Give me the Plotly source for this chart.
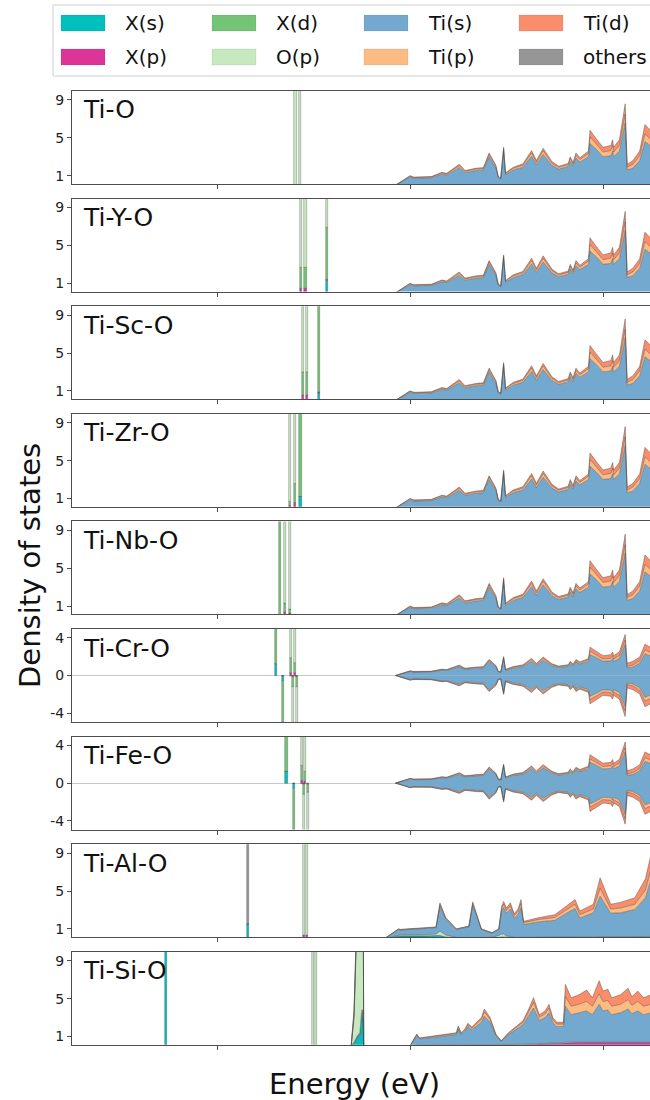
import plotly.graph_objects as go

# ---------------- orbital definitions ----------------
ORB = ["Xs", "Xp", "Xd", "Op", "Tis", "Tip", "Tid", "oth"]
LABELS = ["X(s)", "X(p)", "X(d)", "O(p)", "Ti(s)", "Ti(p)", "Ti(d)", "others"]
COLORS = ["#00bfbf", "#dd3497", "#74c476", "#c7e9c0", "#74a9cf", "#fdbb84", "#fc8d6b", "#969696"]

PANELS = ["Ti-O", "Ti-Y-O", "Ti-Sc-O", "Ti-Zr-O", "Ti-Nb-O", "Ti-Cr-O", "Ti-Fe-O", "Ti-Al-O", "Ti-Si-O"]
SPIN = [False, False, False, False, False, True, True, False, False]

X_TICKS = [-8, -6, -4]
X_TICKTEXT = ["-8", "-6", "-4"]
Y_TICKS_NS = [1, 5, 9]
Y_TICKS_SP = [-4, 0, 4]

# ---------------- valence band, non spin-polarised (Ti-O like) ----------------
E_val = [-6.15, -6.0, -5.96, -5.78, -5.67, -5.62, -5.49, -5.43, -5.31, -5.24, -5.18, -5.11, -5.085, -5.06,
         -5.03, -5.01, -4.93, -4.83, -4.74, -4.69, -4.62, -4.53, -4.46, -4.36, -4.34, -4.31, -4.28, -4.24,
         -4.15, -4.135, -4.07, -4.0, -3.92, -3.90, -3.89, -3.83, -3.77, -3.75, -3.69, -3.62, -3.565, -3.50]
val_Tis = [0, 0.85, 0.72, 0.78, 1.15, 1.08, 1.85, 1.33, 1.55, 1.6, 3.0, 1.8, 0.8, 0.65, 3.6, 1.1, 1.6, 1.9,
           3.05, 2.15, 3.25, 2.1, 1.7, 1.95, 2.5, 2.0, 2.85, 2.45, 3.0, 4.4, 3.8, 3.0, 3.1, 3.6, 3.0, 3.6,
           6.6, 1.6, 1.8, 2.6, 4.6, 4.1]
val_Tip = [0, 0.1, 0.08, 0.08, 0.12, 0.1, 0.2, 0.14, 0.15, 0.15, 0.25, 0.18, 0.06, 0.06, 0.25, 0.12, 0.18,
           0.2, 0.35, 0.25, 0.38, 0.22, 0.18, 0.2, 0.3, 0.22, 0.3, 0.25, 0.35, 0.7, 0.55, 0.5, 0.55, 0.6,
           0.5, 0.6, 0.9, 0.3, 0.4, 0.5, 0.8, 0.7]
val_Tid = [0, 0.05, 0.05, 0.04, 0.08, 0.07, 0.15, 0.08, 0.1, 0.1, 0.15, 0.12, 0.04, 0.04, 0.15, 0.08, 0.12,
           0.15, 0.25, 0.2, 0.27, 0.18, 0.12, 0.15, 0.2, 0.18, 0.25, 0.2, 0.25, 0.7, 0.55, 0.5, 0.55, 0.6,
           0.5, 0.6, 1.1, 0.3, 0.4, 0.5, 1.0, 0.9]

# ---------------- valence band, spin-polarised (Ti-Cr-O, Ti-Fe-O), per spin channel ----------------
spin_Tis = [0, 0.42, 0.36, 0.39, 0.57, 0.54, 0.92, 0.66, 0.77, 0.8, 1.5, 0.9, 0.4, 0.32, 1.8, 0.55, 0.8, 0.95,
            1.52, 1.07, 1.62, 1.05, 0.85, 0.97, 1.25, 1.0, 1.42, 1.22, 1.5, 2.2, 1.9, 1.5, 1.55, 1.8, 1.5, 1.8,
            3.3, 0.8, 0.9, 1.3, 2.3, 2.05]
spin_Tip = [0, 0.05, 0.04, 0.04, 0.06, 0.05, 0.1, 0.07, 0.08, 0.08, 0.12, 0.09, 0.03, 0.03, 0.12, 0.06, 0.09,
            0.1, 0.17, 0.12, 0.19, 0.11, 0.09, 0.1, 0.15, 0.11, 0.15, 0.12, 0.17, 0.35, 0.27, 0.25, 0.27, 0.3,
            0.25, 0.3, 0.45, 0.15, 0.2, 0.25, 0.4, 0.35]
spin_Tid = [0, 0.03, 0.03, 0.02, 0.04, 0.04, 0.08, 0.04, 0.05, 0.05, 0.08, 0.06, 0.02, 0.02, 0.08, 0.04, 0.06,
            0.08, 0.12, 0.1, 0.14, 0.09, 0.06, 0.08, 0.1, 0.09, 0.12, 0.1, 0.12, 0.45, 0.4, 0.35, 0.38, 0.4,
            0.35, 0.4, 0.6, 0.35, 0.4, 0.4, 0.6, 0.55]

# ---------------- valence band, Ti-Al-O ----------------
E_al = [-6.26, -6.12, -6.10, -5.90, -5.73, -5.69, -5.63, -5.52, -5.39, -5.35, -5.30, -5.26, -5.15, -5.08,
        -5.05, -5.03, -5.00, -4.96, -4.92, -4.88, -4.85, -4.83, -4.82, -4.66, -4.50, -4.38, -4.29, -4.24,
        -4.10, -4.03, -3.92, -3.82, -3.67, -3.56, -3.50]
al_Xs = [0, 0.25, 0.25, 0.25, 0.25, 0.30, 0.15, 0.05, 0.05, 0.05, 0.05, 0.05, 0.05, 0.10, 0.15, 0.15, 0.10,
         0.10, 0.05, 0.05, 0.05, 0.05, 0.05, 0.05, 0.05, 0.05, 0.05, 0.05, 0.05, 0.05, 0.05, 0.05, 0.05, 0.05, 0.05]
al_Xp = [0, 0, 0, 0, 0, 0, 0, 0, 0, 0, 0, 0, 0, 0, 0, 0, 0, 0, 0, 0, 0, 0, 0, 0, 0.03, 0.05, 0.05, 0.05,
         0.06, 0.08, 0.06, 0.06, 0.08, 0.1, 0.1]
al_Op = [0, 0.10, 0.10, 0.10, 0.20, 0.45, 0.20, 0.05, 0.05, 0.10, 0.05, 0.05, 0.05, 0.20, 0.30, 0.30, 0.15,
         0.10, 0.05, 0.05, 0.05, 0.05, 0.05, 0.05, 0.05, 0.05, 0.05, 0.05, 0.05, 0.05, 0.05, 0.05, 0.05, 0.05, 0.05]
al_Tis = [0, 0.57, 0.52, 0.62, 0.67, 2.65, 1.67, 0.82, 1.12, 3.35, 1.92, 0.82, 0.45, 0.62, 2.5, 2.8, 2.4,
          2.9, 2.05, 2.45, 3.15, 1.55, 1.35, 1.65, 1.77, 2.5, 3.0, 2.0, 2.54, 4.27, 2.49, 2.54, 2.87, 4.1, 6.1]
al_Tip = [0, 0.05, 0.05, 0.05, 0.05, 0.20, 0.10, 0.05, 0.05, 0.20, 0.10, 0.05, 0.03, 0.05, 0.25, 0.35, 0.30,
          0.35, 0.25, 0.30, 0.45, 0.20, 0.20, 0.25, 0.30, 0.35, 0.45, 0.35, 0.40, 0.85, 0.45, 0.50, 0.55, 0.80, 1.10]
al_Tid = [0, 0.03, 0.03, 0.03, 0.03, 0.15, 0.08, 0.03, 0.03, 0.15, 0.08, 0.03, 0.02, 0.03, 0.20, 0.30, 0.25,
          0.30, 0.20, 0.25, 0.40, 0.15, 0.15, 0.20, 0.30, 0.40, 0.50, 0.40, 0.50, 1.10, 0.50, 0.60, 0.70, 1.20, 1.60]

# ---------------- valence band, Ti-Si-O ----------------
E_si = [-6.61, -6.58, -6.55, -6.52, -6.50, -6.49, -6.48,
        -6.00, -5.93, -5.90, -5.52, -5.50, -5.47, -5.43, -5.40, -5.36, -5.26, -5.23, -5.17, -5.11, -5.055,
        -4.98, -4.83, -4.77, -4.72, -4.66, -4.60, -4.56, -4.52, -4.48, -4.41, -4.39, -4.33, -4.25, -4.17,
        -4.11, -4.04, -4.00, -3.95, -3.91, -3.82, -3.74, -3.70, -3.64, -3.58, -3.50]
si_Xs = [0, 0.3, 0.8, 1.2, 3.5, 3.5, 0,
         0, 0.05, 0.05, 0.05, 0.05, 0.05, 0.05, 0.05, 0.05, 0.05, 0.05, 0.05, 0.05, 0.03,
         0.05, 0.05, 0.05, 0.05, 0.05, 0.05, 0.05, 0.05, 0.05, 0.05, 0.05, 0.05, 0.05, 0.05,
         0.05, 0.05, 0.05, 0.05, 0.05, 0.05, 0.05, 0.05, 0.05, 0.05, 0.05]
si_Xp = [0, 0.1, 0.2, 0.2, 0.3, 0.3, 0,
         0, 0.05, 0.05, 0.05, 0.05, 0.05, 0.05, 0.05, 0.05, 0.05, 0.05, 0.05, 0.05, 0.03,
         0.05, 0.08, 0.1, 0.12, 0.12, 0.15, 0.18, 0.2, 0.25, 0.25, 0.3, 0.3, 0.3, 0.3,
         0.3, 0.35, 0.3, 0.3, 0.3, 0.3, 0.35, 0.3, 0.3, 0.3, 0.3]
si_Op = [0, 2.5, 12, 30, 30, 30, 0,
         0, 0.05, 0.05, 0.05, 0.05, 0.05, 0.05, 0.05, 0.05, 0.05, 0.05, 0.05, 0.05, 0.03,
         0.05, 0.05, 0.05, 0.05, 0.05, 0.05, 0.05, 0.05, 0.05, 0.05, 0.05, 0.05, 0.05, 0.05,
         0.05, 0.05, 0.05, 0.05, 0.05, 0.05, 0.05, 0.05, 0.05, 0.05, 0.05]
si_Tis = [0, 0.4, 0.8, 0.8, 0.8, 0.8, 0,
          0, 0.95, 0.59, 1.05, 1.63, 1.05, 1.4, 1.9, 1.56, 2.35, 3.0, 2.35, 0.93, 0.38,
          1.05, 2.05, 3.0, 3.78, 2.48, 2.75, 3.22, 2.15, 1.7, 1.7, 3.8, 2.9, 3.1, 3.3,
          2.9, 3.95, 3.3, 3.4, 2.9, 3.1, 3.45, 3.0, 3.3, 2.9, 3.1]
si_Tip = [0, 0.3, 0.5, 0.5, 0.5, 0.5, 0,
          0, 0.1, 0.07, 0.12, 0.2, 0.12, 0.15, 0.2, 0.17, 0.3, 0.45, 0.3, 0.1, 0.05,
          0.12, 0.25, 0.4, 0.6, 0.35, 0.4, 0.5, 0.3, 0.25, 0.25, 1.0, 0.9, 0.9, 1.0,
          0.9, 1.1, 1.0, 1.0, 0.9, 0.9, 1.0, 0.9, 1.0, 0.9, 0.9]
si_Tid = [0, 0.2, 0.3, 0.3, 0.3, 0.3, 0,
          0, 0.05, 0.04, 0.08, 0.12, 0.08, 0.1, 0.15, 0.12, 0.2, 0.3, 0.2, 0.07, 0.03,
          0.08, 0.17, 0.3, 0.5, 0.25, 0.3, 0.4, 0.25, 0.2, 0.2, 1.3, 0.9, 1.0, 1.2,
          0.9, 1.4, 1.1, 1.2, 0.9, 1.0, 1.2, 0.9, 1.1, 0.9, 1.0]

# ---------------- sharp (localised) states: energies and heights ----------------
spk_TiO_E = [-7.187, -7.139]
spk_TiO_Op = [30, 30]

spk_TiY_E = [-7.133, -7.083, -6.86]
spk_TiY_Xs = [0, 0, 1.3]
spk_TiY_Xp = [0.4, 0.4, 0.1]
spk_TiY_Xd = [2.3, 2.3, 5.5]
spk_TiY_Op = [30, 30, 30]

spk_TiSc_E = [-7.11, -7.065, -6.945]
spk_TiSc_Xs = [0, 0, 0.8]
spk_TiSc_Xp = [0.5, 0.5, 0.1]
spk_TiSc_Xd = [2.5, 2.5, 30]
spk_TiSc_Op = [30, 30, 0]

spk_TiZr_E = [-7.24, -7.19, -7.135]
spk_TiZr_Xs = [0, 0, 1.2]
spk_TiZr_Xp = [0.2, 0.5, 0]
spk_TiZr_Xd = [0.5, 2.0, 30]
spk_TiZr_Op = [30, 30, 0]

spk_TiNb_E = [-7.345, -7.295, -7.245]
spk_TiNb_Xp = [0, 0.3, 0.2]
spk_TiNb_Xd = [30, 1.0, 0.5]
spk_TiNb_Op = [0, 30, 30]

spk_TiCr_up_E = [-7.39, -7.23, -7.195]
spk_TiCr_up_Xs = [1.2, 0, 0]
spk_TiCr_up_Xp = [0, 0.3, 0.3]
spk_TiCr_up_Xd = [30, 1.5, 1.0]
spk_TiCr_up_Op = [0, 30, 30]
spk_TiCr_dn_E = [-7.32, -7.215, -7.175]
spk_TiCr_dn_Xs = [0.6, 0, 0]
spk_TiCr_dn_Xp = [0, 0.2, 0.2]
spk_TiCr_dn_Xd = [30, 1.0, 1.0]
spk_TiCr_dn_Op = [0, 30, 30]

spk_TiFe_up_E = [-7.28, -7.12, -7.085]
spk_TiFe_up_Xs = [1.2, 0, 0]
spk_TiFe_up_Xp = [0, 0.3, 0.2]
spk_TiFe_up_Xd = [30, 1.5, 1.0]
spk_TiFe_up_Op = [0, 30, 30]
spk_TiFe_dn_E = [-7.20, -7.095, -7.055]
spk_TiFe_dn_Xs = [0.6, 0, 0]
spk_TiFe_dn_Xp = [0, 0.2, 0.2]
spk_TiFe_dn_Xd = [30, 1.0, 0.8]
spk_TiFe_dn_Op = [0, 30, 30]

spk_TiAl_E = [-7.68, -7.10, -7.07]
spk_TiAl_Xs = [1.5, 0, 0]
spk_TiAl_Xp = [0, 0.3, 0.3]
spk_TiAl_Op = [0, 30, 30]
spk_TiAl_oth = [30, 0, 0]

spk_TiSi_E = [-8.53, -7.005, -6.975]
spk_TiSi_Xs = [30, 0, 0]
spk_TiSi_Op = [0, 30, 30]

VAL_NS = {"Tis": val_Tis, "Tip": val_Tip, "Tid": val_Tid}
VAL_SP = {"Tis": spin_Tis, "Tip": spin_Tip, "Tid": spin_Tid}

panel_data = [
    dict(val=(E_val, VAL_NS), up=(spk_TiO_E, {"Op": spk_TiO_Op})),
    dict(val=(E_val, VAL_NS), up=(spk_TiY_E, {"Xs": spk_TiY_Xs, "Xp": spk_TiY_Xp, "Xd": spk_TiY_Xd, "Op": spk_TiY_Op})),
    dict(val=(E_val, VAL_NS), up=(spk_TiSc_E, {"Xs": spk_TiSc_Xs, "Xp": spk_TiSc_Xp, "Xd": spk_TiSc_Xd, "Op": spk_TiSc_Op})),
    dict(val=(E_val, VAL_NS), up=(spk_TiZr_E, {"Xs": spk_TiZr_Xs, "Xp": spk_TiZr_Xp, "Xd": spk_TiZr_Xd, "Op": spk_TiZr_Op})),
    dict(val=(E_val, VAL_NS), up=(spk_TiNb_E, {"Xp": spk_TiNb_Xp, "Xd": spk_TiNb_Xd, "Op": spk_TiNb_Op})),
    dict(val=(E_val, VAL_SP),
         up=(spk_TiCr_up_E, {"Xs": spk_TiCr_up_Xs, "Xp": spk_TiCr_up_Xp, "Xd": spk_TiCr_up_Xd, "Op": spk_TiCr_up_Op}),
         dn=(spk_TiCr_dn_E, {"Xs": spk_TiCr_dn_Xs, "Xp": spk_TiCr_dn_Xp, "Xd": spk_TiCr_dn_Xd, "Op": spk_TiCr_dn_Op})),
    dict(val=(E_val, VAL_SP),
         up=(spk_TiFe_up_E, {"Xs": spk_TiFe_up_Xs, "Xp": spk_TiFe_up_Xp, "Xd": spk_TiFe_up_Xd, "Op": spk_TiFe_up_Op}),
         dn=(spk_TiFe_dn_E, {"Xs": spk_TiFe_dn_Xs, "Xp": spk_TiFe_dn_Xp, "Xd": spk_TiFe_dn_Xd, "Op": spk_TiFe_dn_Op})),
    dict(val=(E_al, {"Xs": al_Xs, "Xp": al_Xp, "Op": al_Op, "Tis": al_Tis, "Tip": al_Tip, "Tid": al_Tid}),
         up=(spk_TiAl_E, {"Xs": spk_TiAl_Xs, "Xp": spk_TiAl_Xp, "Op": spk_TiAl_Op, "oth": spk_TiAl_oth})),
    dict(val=(E_si, {"Xs": si_Xs, "Xp": si_Xp, "Op": si_Op, "Tis": si_Tis, "Tip": si_Tip, "Tid": si_Tid}),
         up=(spk_TiSi_E, {"Xs": spk_TiSi_Xs, "Op": spk_TiSi_Op})),
]

# ---------------- layout constants (pixels) ----------------
W, H = 650, 1100
PLOT_X0 = 72
PANEL_TOP0, PANEL_STEP, PANEL_H = 91, 107.6, 93
X_RANGE = [-9.503, -3.513]
Y_RANGE_NS = [0.12, 9.95]
Y_RANGE_SP = [-4.92, 4.92]
EDGE = "rgba(70,70,70,0.55)"
FRAME = "#4d4d4d"
FONT = "DejaVu Sans"
SPIKE_W = 0.022
CLEAR = "rgba(0,0,0,0)"
XLABEL_GAP_PX = 14  # distance from bottom frame to centre of energy tick labels

COL = dict(zip(ORB, COLORS))

fig = go.Figure()
layout_axes = {}
annotations = []

for i, name in enumerate(PANELS):
    sfx = "" if i == 0 else str(i + 1)
    xa, ya = "x" + sfx, "y" + sfx
    pdata = panel_data[i]
    spin = SPIN[i]
    yr = Y_RANGE_SP if spin else Y_RANGE_NS

    # valence band (stacked areas)
    E, comp = pdata["val"]
    channels = [(1, "u")] + ([(-1, "d")] if spin else [])
    for sign, tag in channels:
        for orb in ORB:
            if orb in comp:
                fig.add_trace(go.Scatter(
                    x=E, y=[sign * v for v in comp[orb]], xaxis=xa, yaxis=ya,
                    stackgroup=f"{tag}{i}", mode="lines",
                    line=dict(width=0.8, color=EDGE), fillcolor=COL[orb],
                    showlegend=False, hoverinfo="skip"))

    # localised states (stacked narrow bars)
    for key, sign in (("up", 1), ("dn", -1)):
        if key not in pdata:
            continue
        E, comp = pdata[key]
        for orb in ORB:
            if orb in comp:
                fig.add_trace(go.Bar(
                    x=E, y=[sign * v for v in comp[orb]], xaxis=xa, yaxis=ya,
                    width=SPIKE_W, marker=dict(color=COL[orb], line=dict(width=0.6, color=EDGE)),
                    showlegend=False, hoverinfo="skip"))

    top = PANEL_TOP0 + i * PANEL_STEP
    bot = top + PANEL_H
    last = (i == len(PANELS) - 1)

    # energy tick labels under the bottom panel, drawn on its x scale
    if last:
        y_per_px = (yr[1] - yr[0]) / PANEL_H
        y_lab = yr[0] - XLABEL_GAP_PX * y_per_px
        fig.add_trace(go.Scatter(
            x=X_TICKS, y=[y_lab] * len(X_TICKS), text=X_TICKTEXT, mode="text",
            textposition="middle center", cliponaxis=False, xaxis=xa, yaxis=ya,
            textfont=dict(family=FONT, size=14, color="#222"),
            showlegend=False, hoverinfo="skip"))

    layout_axes["xaxis" + sfx] = dict(
        domain=[PLOT_X0 / W, 1.0], anchor=ya, range=X_RANGE, showgrid=False, zeroline=False,
        showline=True, mirror=True, linecolor=FRAME, linewidth=1,
        ticks="outside", ticklen=4, tickwidth=1, tickcolor=FRAME,
        tickmode="array", tickvals=X_TICKS, showticklabels=False)
    layout_axes["yaxis" + sfx] = dict(
        domain=[1 - bot / H, 1 - top / H], anchor=xa,
        range=yr, showgrid=False,
        zeroline=spin, zerolinecolor="#c8c8c8", zerolinewidth=1,
        showline=True, mirror=False, linecolor=FRAME, linewidth=1,
        ticks="outside", ticklen=4, tickwidth=1, tickcolor=FRAME,
        tickmode="array", tickvals=Y_TICKS_SP if spin else Y_TICKS_NS,
        ticktext=[str(t) for t in (Y_TICKS_SP if spin else Y_TICKS_NS)],
        tickfont=dict(family=FONT, size=14, color="#222"))

    annotations.append(dict(
        text=name, xref="paper", yref="paper", x=81 / W, y=1 - (top + 19) / H,
        xanchor="left", yanchor="middle", showarrow=False,
        font=dict(family=FONT, size=25, color="#111")))

# axis titles
annotations.append(dict(text="Energy (eV)", xref="paper", yref="paper", x=354 / W, y=1 - 1084 / H,
                        xanchor="center", yanchor="middle", showarrow=False,
                        font=dict(family=FONT, size=29, color="#111")))
annotations.append(dict(text="Density of states", xref="paper", yref="paper", x=30 / W, y=1 - 566 / H,
                        xanchor="center", yanchor="middle", showarrow=False, textangle=-90,
                        font=dict(family=FONT, size=29, color="#111")))

# ---------------- legend (drawn as patches + labels) ----------------
LEG_COL_X = [61, 212, 364, 519]
LEG_ROW_Y = [23, 57]
PATCH_W, PATCH_H, TEXT_DX = 44, 16, 62
shapes = [dict(type="rect", xref="paper", yref="paper", x0=53 / W, x1=1.02, y0=1 - 76 / H, y1=1 - 5 / H,
               line=dict(color="#cfcfcf", width=1), fillcolor=CLEAR, layer="below")]
for k, (lab, colr) in enumerate(zip(LABELS, COLORS)):
    cx, ry = LEG_COL_X[k // 2], LEG_ROW_Y[k % 2]
    shapes.append(dict(type="rect", xref="paper", yref="paper",
                       x0=cx / W, x1=(cx + PATCH_W) / W,
                       y0=1 - (ry + PATCH_H / 2) / H, y1=1 - (ry - PATCH_H / 2) / H,
                       fillcolor=colr, line=dict(color="rgba(0,0,0,0.12)", width=0.6), layer="below"))
    annotations.append(dict(text=lab, xref="paper", yref="paper", x=(cx + TEXT_DX) / W, y=1 - ry / H,
                            xanchor="left", yanchor="middle", showarrow=False,
                            font=dict(family=FONT, size=20, color="#111")))

fig.update_layout(
    width=W, height=H, margin=dict(l=0, r=0, t=0, b=0, autoexpand=False),
    paper_bgcolor="white", plot_bgcolor=CLEAR, showlegend=False,
    barmode="relative", bargap=0, annotations=annotations, shapes=shapes,
    font=dict(family=FONT), **layout_axes)

fig.write_html("out.html")
